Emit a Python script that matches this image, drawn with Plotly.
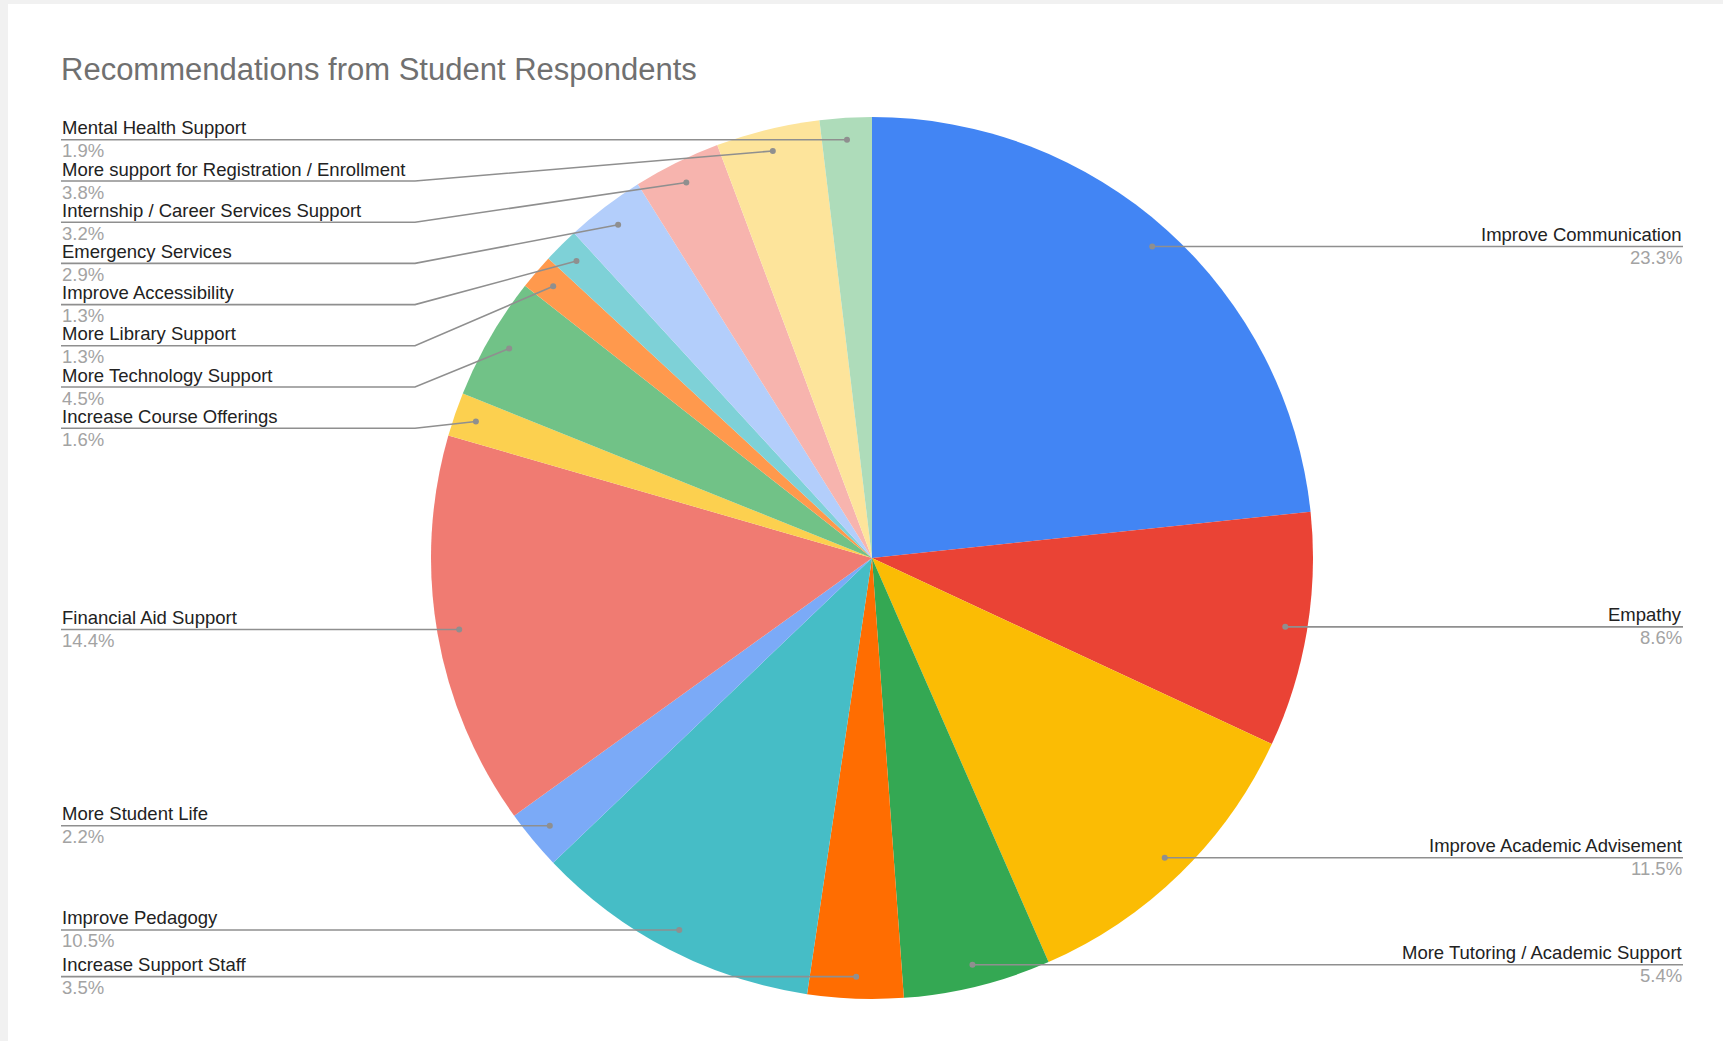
import math
import plotly.graph_objects as go

# ---- data -------------------------------------------------------------
categories = [
    "Improve Communication",
    "Empathy",
    "Improve Academic Advisement",
    "More Tutoring / Academic Support",
    "Increase Support Staff",
    "Improve Pedagogy",
    "More Student Life",
    "Financial Aid Support",
    "Increase Course Offerings",
    "More Technology Support",
    "More Library Support",
    "Improve Accessibility",
    "Emergency Services",
    "Internship / Career Services Support",
    "More support for Registration / Enrollment",
    "Mental Health Support",
]
shares = [23.3, 8.6, 11.5, 5.4, 3.5, 10.5, 2.2, 14.4, 1.6, 4.5, 1.3, 1.3, 2.9, 3.2, 3.8, 1.9]
slice_colors = [
    "#4285F4", "#EA4335", "#FBBC04", "#34A853", "#FF6D01", "#46BDC6",
    "#7BAAF7", "#F07B72", "#FCD04F", "#71C287", "#FF994D", "#7ED1D7",
    "#B3CEFB", "#F7B4AE", "#FDE49B", "#AEDCBA",
]
title_text = "Recommendations from Student Respondents"

# ---- layout geometry (pixels) ----------------------------------------
W, H = 1723, 1041
CX, CY, R = 872, 558, 441          # pie centre and radius
DOT_FRAC = 0.95                    # leader dot position along the radius
DOT_R = 3                          # leader dot radius
LEFT_X, RIGHT_X = 61, 1683         # label text edges
LEFT_BEND, RIGHT_BEND = 415, 1329  # where the horizontal leader turns
MIN_GAP = 41.2                     # minimum vertical spacing of labels
LABEL_FONT = "Liberation Sans, Arial, sans-serif"
LEADER_COLOR = "#8f8f8f"

fig = go.Figure()

fig.add_trace(go.Pie(
    labels=categories,
    values=shares,
    sort=False,
    direction="clockwise",
    rotation=0,
    marker=dict(colors=slice_colors, line=dict(width=0)),
    textinfo="none",
    hoverinfo="label+percent",
    showlegend=False,
    domain=dict(
        x=[(CX - R) / W, (CX + R) / W],
        y=[1 - (CY + R) / H, 1 - (CY - R) / H],
    ),
))

# invisible trace so the pixel-space axes exist for the overlays
fig.add_trace(go.Scatter(x=[0, W], y=[0, H], mode="markers",
                         marker=dict(opacity=0), hoverinfo="skip", showlegend=False))

# ---- leader dots from the slice mid-angles ----------------------------
total = sum(shares)
cum = 0.0
dots = []
for v in shares:
    theta = 2 * math.pi * (cum + v / 2) / total
    cum += v
    dx = CX + DOT_FRAC * R * math.sin(theta)
    dy = CY - DOT_FRAC * R * math.cos(theta)
    side = "right" if theta < math.pi else "left"
    dots.append((dx, dy, side))

# stack labels on each side so they never collide
label_y = [0.0] * len(shares)
for side in ("left", "right"):
    idx = sorted([i for i, d in enumerate(dots) if d[2] == side], key=lambda i: dots[i][1])
    prev = -1e9
    for i in idx:
        y = max(dots[i][1], prev + MIN_GAP)
        label_y[i] = y
        prev = y

shapes = [
    dict(type="rect", xref="x", yref="y", x0=0, x1=8, y0=0, y1=H,
         fillcolor="#f1f1f1", line=dict(width=0), layer="below"),
    dict(type="rect", xref="x", yref="y", x0=0, x1=W, y0=0, y1=4,
         fillcolor="#f1f1f1", line=dict(width=0), layer="below"),
]
annotations = []
for i, (dx, dy, side) in enumerate(dots):
    ly = label_y[i]
    if side == "left":
        x_edge, x_bend, anchor = LEFT_X, LEFT_BEND, "left"
    else:
        x_edge, x_bend, anchor = RIGHT_X, RIGHT_BEND, "right"
    shapes.append(dict(
        type="path", xref="x", yref="y", layer="above",
        path=f"M {x_edge},{ly} L {x_bend},{ly} L {dx:.2f},{dy:.2f}",
        line=dict(color=LEADER_COLOR, width=1.6),
    ))
    shapes.append(dict(
        type="circle", xref="x", yref="y", layer="above",
        x0=dx - DOT_R, x1=dx + DOT_R, y0=dy - DOT_R, y1=dy + DOT_R,
        fillcolor=LEADER_COLOR, line=dict(width=0),
    ))
    annotations.append(dict(
        x=x_edge, y=ly - 12, xref="x", yref="y", xanchor=anchor, yanchor="middle",
        text=categories[i], showarrow=False, borderpad=0,
        font=dict(family=LABEL_FONT, size=18.5, color="#222222"),
    ))
    annotations.append(dict(
        x=x_edge, y=ly + 11, xref="x", yref="y", xanchor=anchor, yanchor="middle",
        text=f"{shares[i]:.1f}%", showarrow=False, borderpad=0,
        font=dict(family=LABEL_FONT, size=18.5, color="#a3a3a3"),
    ))

annotations.append(dict(
    x=LEFT_X - 2, y=69, xref="x", yref="y", xanchor="left", yanchor="middle",
    text=title_text, showarrow=False,
    font=dict(family=LABEL_FONT, size=31, color="#707070"),
))

fig.update_layout(
    width=W, height=H, autosize=False,
    margin=dict(l=0, r=0, t=0, b=0),
    paper_bgcolor="white", plot_bgcolor="rgba(0,0,0,0)",
    xaxis=dict(range=[0, W], visible=False, domain=[0, 1], fixedrange=True),
    yaxis=dict(range=[H, 0], visible=False, domain=[0, 1], fixedrange=True),
    annotations=annotations,
    shapes=shapes,
)

fig.write_html("out.html", post_script="document.body.style.margin='0';")
